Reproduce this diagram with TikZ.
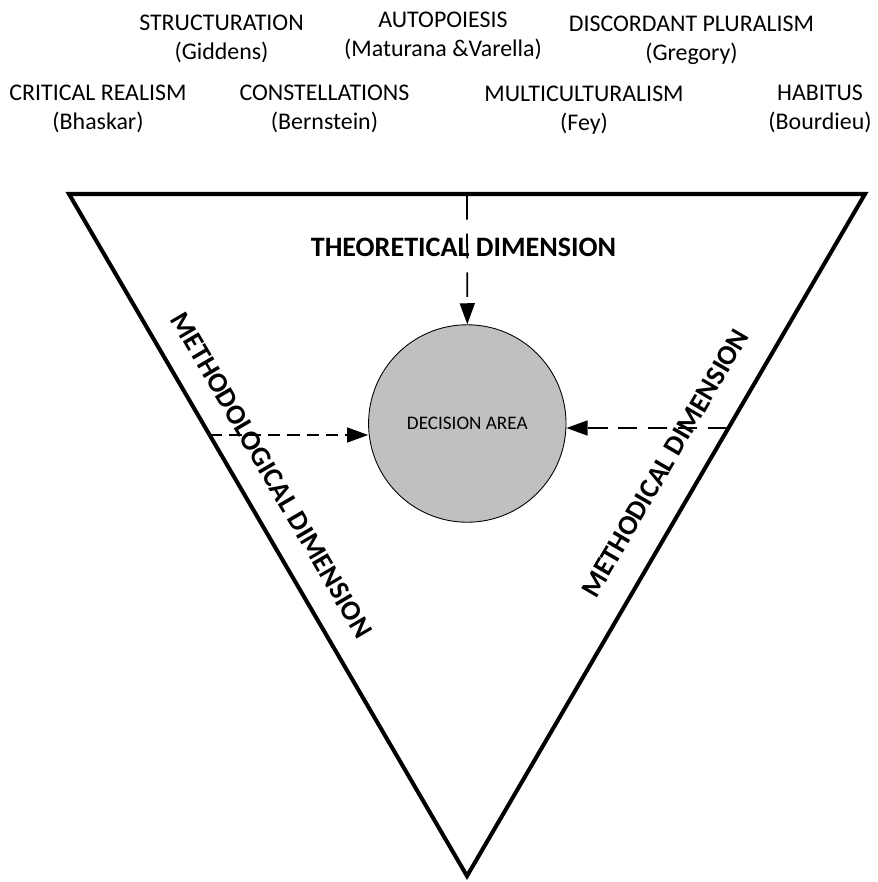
\documentclass[tikz,border=0pt]{standalone}
\usepackage{fontspec}
\setmainfont{Carlito}
\usepackage{xcolor}
\usetikzlibrary{arrows.meta}
\definecolor{areagray}{HTML}{C0C0C0}

\begin{document}
\begin{tikzpicture}[x=0.02cm, y=-0.02cm,
        lbl/.style = {align=center, inner sep=0pt, font=\fontsize{13.6}{16.5}\selectfont},
        dim/.style = {inner sep=0pt, font=\fontsize{16}{19}\selectfont\bfseries},
        flow/.style = {line width=1pt, -{Triangle[length=12pt, width=8.5pt]}}]
                \useasboundingbox (0,0) rectangle (877,882);

                % Theories above the triangle
                \node[lbl] (struct) at (221.5,39) {STRUCTURATION\\(Giddens)};
                \node[lbl] (autop) at (443,36) {AUTOPOIESIS\\(Maturana \&Varella)};
                \node[lbl] (discord) at (691.5,40) {DISCORDANT PLURALISM\\(Gregory)};
                \node[lbl] (critical) at (98,109) {CRITICAL REALISM\\(Bhaskar)};
                \node[lbl] (constel) at (324.5,109) {CONSTELLATIONS\\(Bernstein)};
                \node[lbl] (multi) at (584,110) {MULTICULTURALISM\\(Fey)};
                \node[lbl] (habitus) at (820,109) {HABITUS\\(Bourdieu)};

                % Triangle (top left, top right, bottom)
                \coordinate (tl) at (69,194);
                \coordinate (tr) at (865,194);
                \coordinate (bot) at (467,876);
                \draw[line width=2.3pt, line join=miter] (tl) -- (tr) -- (bot) -- cycle;

                % Decision area in the middle
                \node[circle, draw, line width=0.5pt, fill=areagray, minimum size=3.95cm, inner sep=0pt,
                      font=\fontsize{10.9}{13}\selectfont] (area) at (467.3,423.5) {DECISION AREA};

                % Dimensions along the sides
                \node[dim] (theo) at (463.5,247) {THEORETICAL DIMENSION};
                \node[dim, rotate=-59.7] (methodo) at (271.5,475) {METHODOLOGICAL DIMENSION};
                \node[dim, rotate=59.7] (methodi) at (665,463) {METHODICAL DIMENSION};

                % Dashed arrows from the sides to the area
                \coordinate (tm) at (467,195);
                \coordinate (lm) at (210,435);
                \coordinate (rm) at (727,428);
                \draw[flow, dash pattern=on 14pt off 8pt] (tm) -- (area.north);
                \draw[flow, dash pattern=on 7pt off 4pt] (lm) -- (lm -| area.west);
                \draw[flow, dash pattern=on 11pt off 6pt] (rm) -- (rm -| area.east);

            \end{tikzpicture}
\end{document}
